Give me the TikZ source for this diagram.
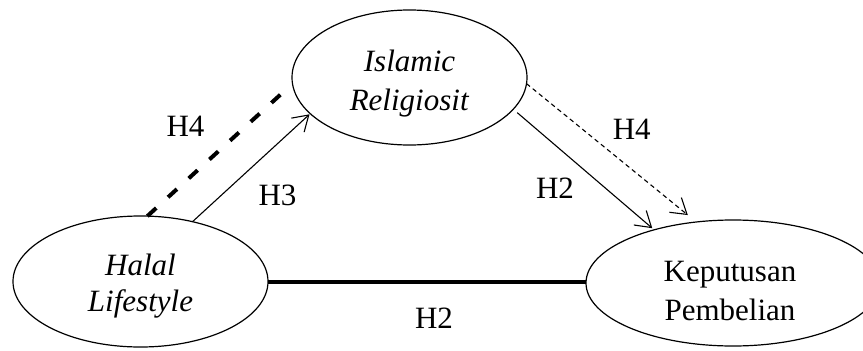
\documentclass[tikz,border=0pt]{standalone}
\usepackage{fontspec}
\setmainfont{Liberation Serif}
\usetikzlibrary{arrows.meta,shapes.geometric}
\begin{document}
\begin{tikzpicture}[x=1pt,y=-1pt,
  oval/.style={draw, ellipse, line width=1.2pt, inner sep=0pt, outer sep=0pt},
  lbl/.style={font=\fontsize{31}{38}\selectfont, inner sep=0pt, anchor=base},
  thinarrow/.style={line width=1.1pt, -{Straight Barb[length=15pt,width=19pt,line width=1.1pt]}},
  thickline/.style={line width=4pt},
  thickdash/.style={line width=4pt, dash pattern=on 12pt off 16pt},
  thindash/.style={line width=1.1pt, dash pattern=on 4.5pt off 3.5pt}]
\useasboundingbox (0,0) rectangle (863,351);
% ellipses
\node[oval, minimum width=255pt, minimum height=131pt] (hl) at (140.5,281.5) {};
\node[oval, minimum width=235pt, minimum height=135pt] (ir) at (409.5,77.5) {};
\node[oval, minimum width=294pt, minimum height=126pt] (kp) at (733,283) {};
% texts
\node[lbl] (hl1) at (140.5,275) {\textit{Halal}};
\node[lbl] (hl2) at (140.5,311.7) {\textit{Lifestyle}};
\node[lbl] (ir1) at (409.5,71.5) {\textit{Islamic}};
\node[lbl] (ir2) at (409.5,110) {\textit{Religiosit}};
\node[lbl] (kp1) at (730,281.7) {Keputusan};
\node[lbl] (kp2) at (730,320) {Pembelian};
% connectors
\draw[thickdash, shorten >=12.8pt] (hl.84) -- (ir.183.4);
\draw[thinarrow, shorten >=1pt] (hl.49) -- (ir.200.6);
\draw[thinarrow, shorten <=5.3pt, shorten >=2.5pt] (ir.-17.4) -- (kp.146.2);
\draw[thindash, -{Straight Barb[length=15pt,width=19pt,line width=1.1pt]}, shorten >=11pt] (ir.-3.7) -- (kp.121.6);
\draw[thickline] (hl.east) -- (hl.east -| kp.west);
% hypothesis labels
\node[lbl] (h4a) at (185.5,136.7) {H4};
\node[lbl] (h3) at (277.5,205) {H3};
\node[lbl] (h4b) at (631.7,139.3) {H4};
\node[lbl] (h2a) at (555,198.3) {H2};
\node[lbl] (h2b) at (434,328.3) {H2};
\end{tikzpicture}
\end{document}
